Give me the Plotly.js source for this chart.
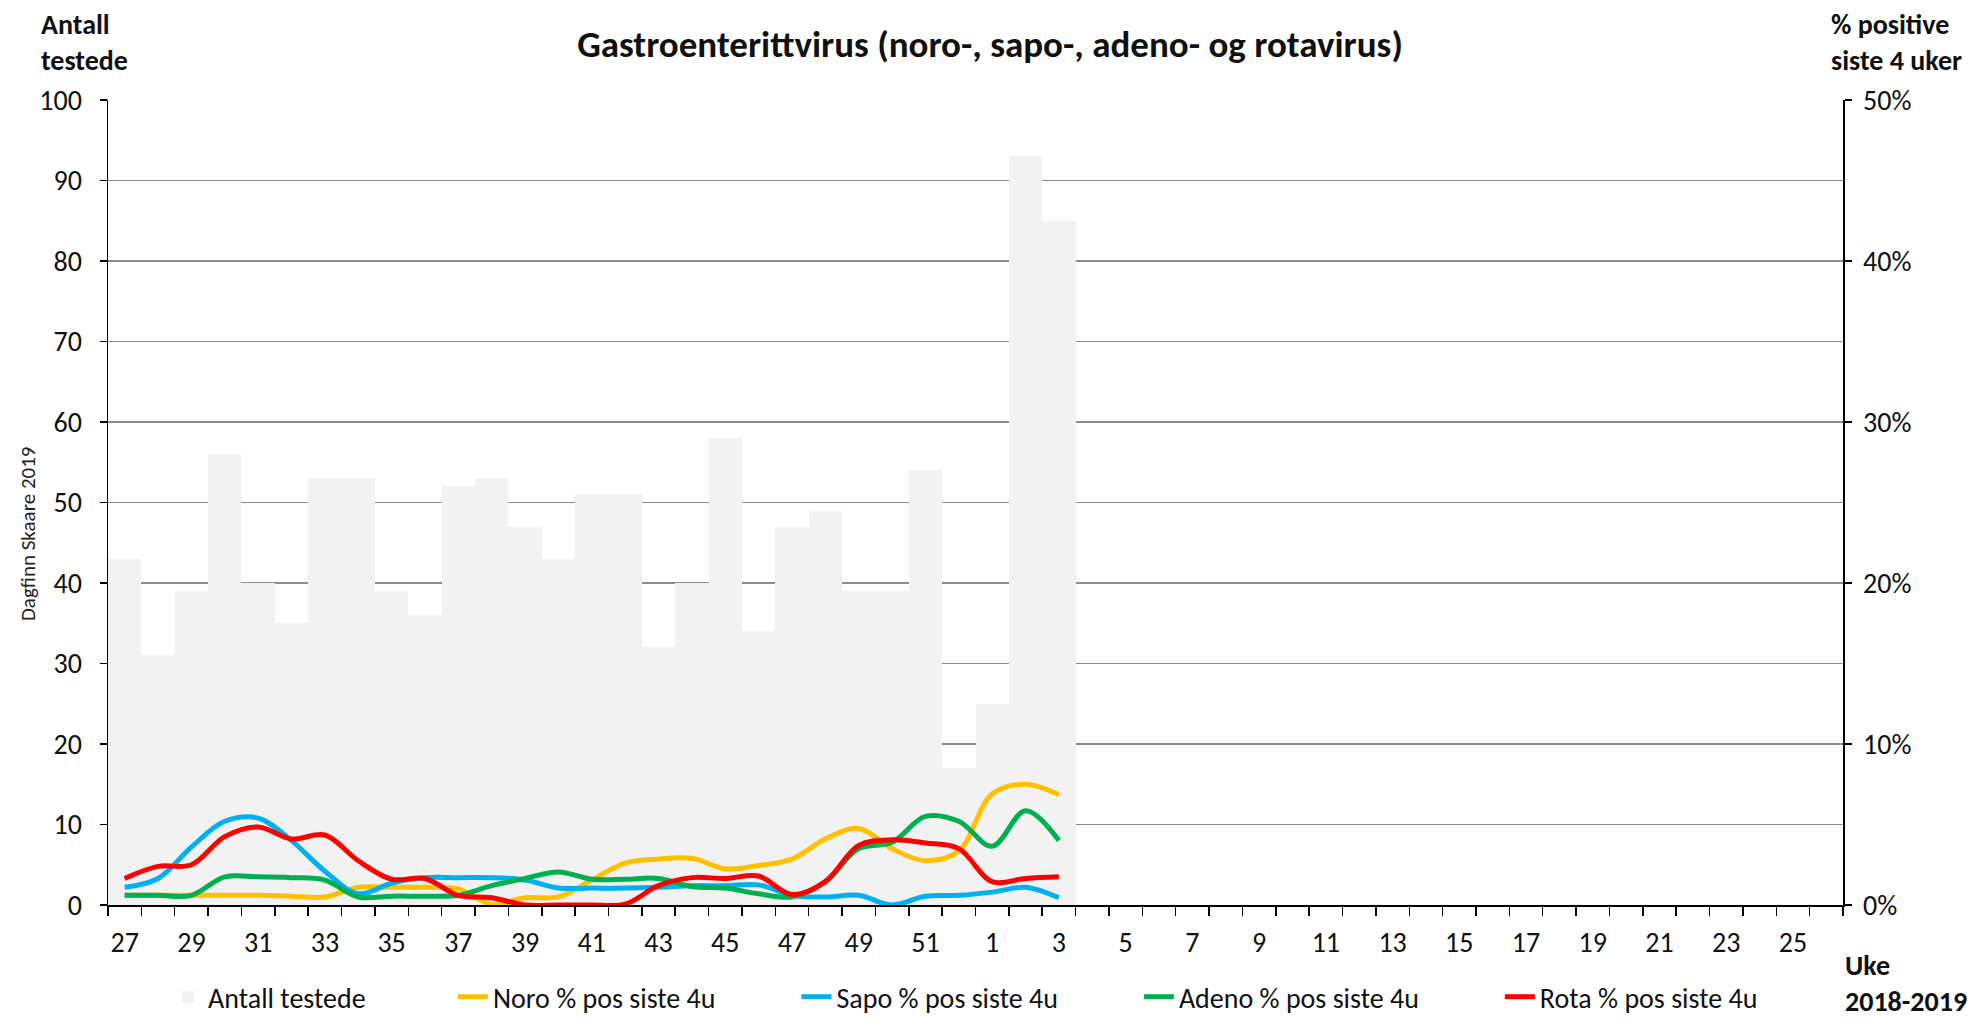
<!DOCTYPE html>
<html>
<head>
<meta charset="utf-8">
<script src="https://cdn.plot.ly/plotly-3.0.1.min.js"></script>
<style>html,body{margin:0;padding:0;background:#fff;}#chart{width:1971px;height:1022px;}</style>
</head>
<body>
<div id="chart"></div>
<script>
// Week labels for the season (uke 27 2018 .. uke 26 2019)
const weeks = ["27","28","29","30","31","32","33","34","35","36","37","38","39","40","41","42","43","44","45","46","47","48","49","50","51","52",
               "1","2","3","4","5","6","7","8","9","10","11","12","13","14","15","16","17","18","19","20","21","22","23","24","25","26"];
// Number tested per week (weeks 27..3)
const antallTestede = [43,31,39,56,40,35,53,53,39,36,52,53,47,43,51,51,32,40,58,34,47,49,39,39,54,17,25,93,85];
// % positive last 4 weeks
const noroPct  = [0.6,0.6,0.6,0.6,0.6,0.55,0.5,1.1,1.1,1.1,1.0,0.05,0.45,0.5,1.55,2.6,2.85,2.9,2.25,2.45,2.85,4.1,4.75,3.5,2.75,3.35,6.9,7.5,6.85];
const sapoPct  = [1.1,1.65,3.6,5.2,5.4,4.0,2.1,0.7,1.35,1.7,1.7,1.7,1.55,1.05,1.05,1.05,1.1,1.2,1.2,1.25,0.6,0.5,0.6,0.0,0.55,0.6,0.8,1.1,0.45];
const adenoPct = [0.6,0.6,0.6,1.75,1.75,1.7,1.55,0.5,0.55,0.55,0.6,1.2,1.65,2.05,1.6,1.6,1.65,1.15,1.05,0.7,0.5,1.45,3.5,3.9,5.5,5.2,3.65,5.85,4.0];
const rotaPct  = [1.65,2.4,2.5,4.25,4.85,4.1,4.35,2.75,1.6,1.65,0.6,0.45,0.0,0.0,0.0,0.05,1.2,1.7,1.65,1.8,0.65,1.45,3.7,4.05,3.85,3.5,1.45,1.65,1.75];

const idx = weeks.map((w,i)=>i);
const tickIdx = idx.filter(i => i % 2 === 0);
const tickTxt = tickIdx.map(i => weeks[i]);
const xFor = arr => arr.map((v,i)=>i);

const FONT = "Carlito, 'Liberation Sans', Arial, sans-serif";
const pad = "\u00a0".repeat(12);

const lineTrace = (name, vals, color) => ({
  type: "scatter", mode: "lines", name: name + pad,
  x: xFor(vals), y: vals, yaxis: "y2",
  line: {color: color, width: 5, shape: "spline", smoothing: 1},
  hoverinfo: "skip"
});

const data = [
  {type: "bar", name: "Antall testede" + "\u00a0".repeat(13), x: xFor(antallTestede), y: antallTestede,
   marker: {color: "#F2F2F2", line: {width: 0}}, width: 1, hoverinfo: "skip"},
  lineTrace("Noro % pos siste 4u", noroPct, "#FFC000"),
  lineTrace("Sapo % pos siste 4u", sapoPct, "#00B0F0"),
  lineTrace("Adeno % pos siste 4u", adenoPct, "#00B050"),
  lineTrace("Rota % pos siste 4u", rotaPct, "#FF0000")
];

const layout = {
  width: 1971, height: 1022,
  margin: {l: 108, r: 128, t: 100, b: 117},
  paper_bgcolor: "#fff", plot_bgcolor: "#fff",
  font: {family: FONT, size: 28, color: "#111"},
  showlegend: true,
  bargap: 0,
  title: {text: "<b>Gastroenterittvirus (noro-, sapo-, adeno- og rotavirus)</b>",
          font: {family: FONT, size: 37, color: "#111"},
          x: 0.5023, xref: "container", xanchor: "center", y: 0.957, yref: "container", yanchor: "middle"},
  xaxis: {
    range: [-0.5, 51.5], tickmode: "array", tickvals: tickIdx, ticktext: tickTxt,
    ticks: "", showgrid: false, zeroline: false,
    showline: true, linecolor: "#000", linewidth: 1.5,
    ticklabelstandoff: 12,
    tickfont: {family: FONT, size: 28, color: "#111"},
    minor: {tick0: -0.5, dtick: 1, ticks: "outside", ticklen: 9, tickcolor: "#000", tickwidth: 1.5, showgrid: false}
  },
  yaxis: {
    range: [0, 100], dtick: 10, tick0: 0,
    ticks: "outside", ticklen: 7, tickwidth: 1.5, tickcolor: "#000",
    showline: true, linecolor: "#000", linewidth: 1.5,
    showgrid: true, gridcolor: "#8C8C8C", gridwidth: 1.5, zeroline: false,
    ticklabelstandoff: 12,
    tickfont: {family: FONT, size: 28, color: "#111"}
  },
  yaxis2: {
    overlaying: "y", side: "right", range: [0, 50], dtick: 10, tick0: 0, ticksuffix: "%",
    ticks: "outside", ticklen: 7, tickwidth: 1.5, tickcolor: "#000",
    showline: true, linecolor: "#000", linewidth: 1.5,
    showgrid: false, zeroline: false,
    ticklabelstandoff: 6,
    tickfont: {family: FONT, size: 28, color: "#111"}
  },
  legend: {
    orientation: "h", x: 0.0346, xanchor: "left", y: 0, yref: "container", yanchor: "bottom",
    font: {family: FONT, size: 28, color: "#111"},
    bgcolor: "rgba(0,0,0,0)", traceorder: "normal", itemwidth: 30
  },
  annotations: [
    {text: "<b>Antall<br>testede</b>", xref: "paper", yref: "paper", x: -0.0398, y: 1.118,
     xanchor: "left", yanchor: "top", align: "left", showarrow: false,
     font: {family: FONT, size: 28, color: "#111"}},
    {text: "<b>% positive<br>siste 4 uker</b>", xref: "paper", yref: "paper", x: 0.992, y: 1.118,
     xanchor: "left", yanchor: "top", align: "left", showarrow: false,
     font: {family: FONT, size: 28, color: "#111"}},
    {text: "<b>Uke<br>2018-2019</b>", xref: "paper", yref: "paper", x: 1.0, y: -0.1442,
     xanchor: "left", yanchor: "bottom", align: "left", showarrow: false,
     font: {family: FONT, size: 28, color: "#111"}},
    {text: "Dagfinn Skaare 2019", xref: "paper", yref: "paper", x: -0.046, y: 0.461,
     xanchor: "center", yanchor: "middle", textangle: -90, showarrow: false,
     font: {family: FONT, size: 21, color: "#222"}}
  ]
};

Plotly.newPlot("chart", data, layout, {displayModeBar: false, staticPlot: true});
</script>
</body>
</html>
